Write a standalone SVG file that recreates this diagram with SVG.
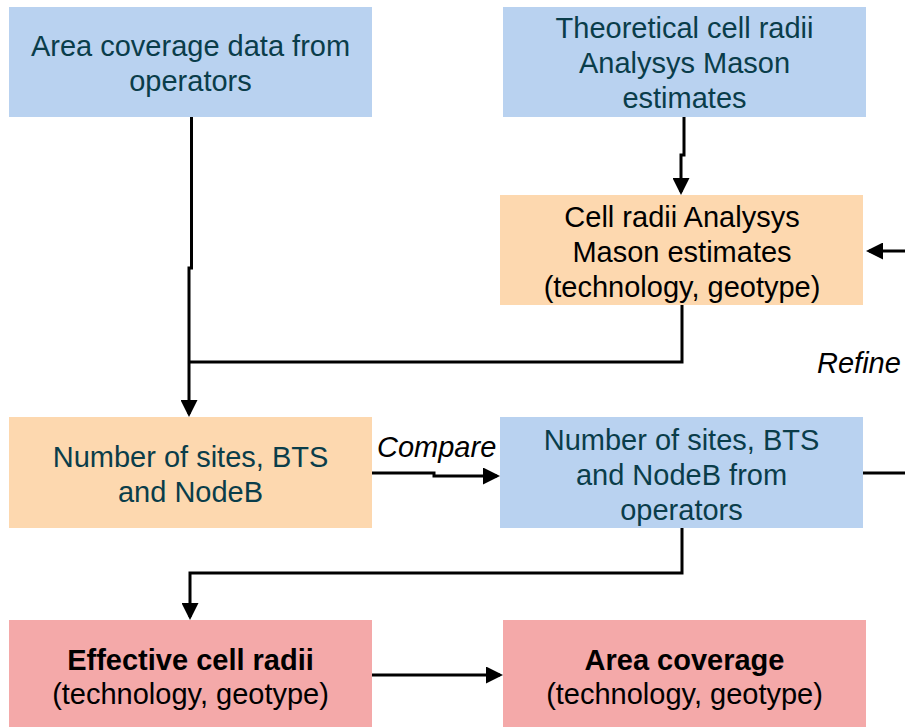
<svg xmlns="http://www.w3.org/2000/svg" width="905" height="727" viewBox="0 0 905 727">
<style>
  .blue { fill: #B9D2F0; }
  .peach { fill: #FDD8AF; }
  .pink { fill: #F4A9A9; }
  text { font-family: "Liberation Sans", Arial, sans-serif; font-size: 29px; text-anchor: middle; }
  .teal { fill: #0A3D4A; }
  .blk { fill: #000000; }
  .bold { font-weight: bold; }
  .lbl { font-style: italic; fill: #000000; text-anchor: start; }
  .conn { fill: none; stroke: #000000; stroke-width: 3; }
</style>
<defs>
  <marker id="arrow" markerUnits="userSpaceOnUse" markerWidth="17" markerHeight="17" refX="14" refY="8.5" orient="auto">
    <path d="M0,0 L17,8.5 L0,17 Z" fill="#000000"/>
  </marker>
</defs>
<g id="node-area-coverage-data">
  <rect class="blue" x="9" y="7" width="363" height="110"/>
  <text class="teal" x="190.5" y="56">Area coverage data from</text>
  <text class="teal" x="190.5" y="91">operators</text>
</g>
<g id="node-theoretical-cell-radii">
  <rect class="blue" x="503" y="7" width="363" height="110"/>
  <text class="teal" x="684.5" y="38">Theoretical cell radii</text>
  <text class="teal" x="684.5" y="73">Analysys Mason</text>
  <text class="teal" x="684.5" y="108">estimates</text>
</g>
<g id="node-cell-radii-estimates">
  <rect class="peach" x="500" y="195" width="363" height="110"/>
  <text class="blk" x="682" y="227">Cell radii Analysys</text>
  <text class="blk" x="682" y="262">Mason estimates</text>
  <text class="blk" x="682" y="297">(technology, geotype)</text>
</g>
<g id="node-number-of-sites">
  <rect class="peach" x="9" y="417" width="363" height="111"/>
  <text class="teal" x="190.5" y="467">Number of sites, BTS</text>
  <text class="teal" x="190.5" y="502">and NodeB</text>
</g>
<g id="node-number-of-sites-operators">
  <rect class="blue" x="500" y="417" width="363" height="111"/>
  <text class="teal" x="681.5" y="450">Number of sites, BTS</text>
  <text class="teal" x="681.5" y="485">and NodeB from</text>
  <text class="teal" x="681.5" y="520">operators</text>
</g>
<g id="node-effective-cell-radii">
  <rect class="pink" x="9" y="620" width="363" height="107"/>
  <text class="blk bold" x="190.5" y="670">Effective cell radii</text>
  <text class="blk" x="190.5" y="704">(technology, geotype)</text>
</g>
<g id="node-area-coverage">
  <rect class="pink" x="503" y="620" width="363" height="107"/>
  <text class="blk bold" x="684.5" y="670">Area coverage</text>
  <text class="blk" x="684.5" y="704">(technology, geotype)</text>
</g>
<g id="connectors">
  <path class="conn" d="M191.5,117 V268 H189 V414" marker-end="url(#arrow)"/>
  <path class="conn" d="M189,362 H682 V305"/>
  <path class="conn" d="M684,117 V155 H681 V192" marker-end="url(#arrow)"/>
  <path class="conn" d="M905,251 H869" marker-end="url(#arrow)"/>
  <path class="conn" d="M863,473 H905"/>
  <path class="conn" d="M372,473 H434 V476 H497" marker-end="url(#arrow)"/>
  <path class="conn" d="M682,528 V573 H190 V617" marker-end="url(#arrow)"/>
  <path class="conn" d="M372,675 H500" marker-end="url(#arrow)"/>
  <text class="lbl" x="817" y="373">Refine</text>
  <text class="lbl" x="377" y="457">Compare</text>
</g>
</svg>
